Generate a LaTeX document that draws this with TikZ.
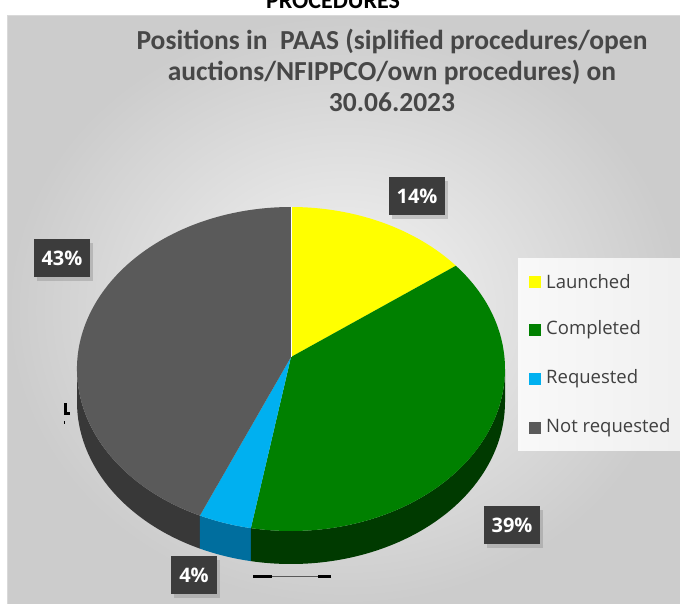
\documentclass[tikz,border=0pt]{standalone}
\usepackage{fontspec}
\setmainfont{Open Sans}
\newfontfamily\titlefont{Carlito}
\usetikzlibrary{shadows}
\definecolor{ttlgray}{HTML}{474747}
\definecolor{leggray}{HTML}{404040}
\definecolor{lblgray}{HTML}{3C3C3C}
\definecolor{cyel}{HTML}{FFFF00}
\definecolor{cgrn}{HTML}{008000}
\definecolor{cgrnside}{HTML}{003A00}
\definecolor{cblu}{HTML}{00B0F0}
\definecolor{cbluside}{HTML}{006E9E}
\definecolor{cgry}{HTML}{5A5A5A}
\definecolor{cgryside}{HTML}{383838}
\newcommand\piex[1]{291+214*cos(#1)}
\newcommand\piey[1]{-369+162*sin(#1)}
\newcommand\mytop[3]{\fill[#3] (V) -- ({\piex{#1}},{\piey{#1}}) arc[start angle=#1, end angle=#2, x radius=214pt, y radius=162pt] -- cycle;}
\newcommand\myside[3]{\fill[#3] ({\piex{#1}},{\piey{#1}}) arc[start angle=#1, end angle=#2, x radius=214pt, y radius=162pt] -- ++(0,-33) arc[start angle=#2, end angle=#1, x radius=214pt, y radius=162pt] -- cycle;}
\tikzset{
  lbl/.style={fill=lblgray, text=white, font=\bfseries\fontsize{20}{20}\selectfont, minimum height=38pt, inner xsep=8pt, drop shadow={shadow xshift=3pt, shadow yshift=-4pt, opacity=0.35}},
  legsq/.style={minimum size=11.5pt, inner sep=0pt},
  legtxt/.style={anchor=west, text=leggray, font=\fontsize{18.5}{18.5}\selectfont, inner sep=0pt}
}
\begin{document}
\begin{tikzpicture}[x=1pt,y=1pt]
\useasboundingbox (0,0) rectangle (680,-603);
\clip (0,0) rectangle (680,-603);
\fill[white] (0,0) rectangle (680,-603);
\node[anchor=base, font=\titlefont\bfseries\fontsize{24}{24}\selectfont] (cut) at (333,-8) {PROCEDURES};
% frame
\shade[inner color=gray!8, outer color=gray!40, draw=gray!30] (7,-15) rectangle (682,-605);
% title
\node[align=center, text=ttlgray, font=\titlefont\bfseries\fontsize{27.5}{31}\selectfont] (title) at (392,-70) {Positions in\ \ PAAS (siplified procedures/open\\auctions/NFIPPCO/own procedures) on\\30.06.2023};
% legend box
\shade[left color=gray!5, right color=gray!12] (518,-258) rectangle (682,-450);
% pie
\coordinate (V) at (291,-357);
\myside{-180}{-115.2}{cgryside}
\myside{-115.2}{-100.8}{cbluside}
\myside{-100.8}{0}{cgrnside}
\mytop{90}{39.6}{cyel}
\mytop{39.6}{-100.8}{cgrn}
\mytop{-100.8}{-115.2}{cblu}
\mytop{-115.2}{-270}{cgry}
\draw[white, line width=1pt] (V) -- (291,-207);
% artifacts
\fill[black] (64,-403) rectangle (67,-414);
\fill[black] (64,-412) rectangle (70,-415);
\fill[black] (63.5,-421) rectangle (65,-424);
\coordinate (la) at (253,-576);
\coordinate (lb) at (331,-576);
\draw[gray!70!black, line width=0.8pt] (la) -- (lb);
\draw[black, line width=3pt] (la) -- ++(19,0);
\draw[black, line width=3pt] (lb) -- ++(-13,0);
% labels
\node[lbl] (l14) at (417,-196) {14\%};
\node[lbl] (l39) at (512,-525) {39\%};
\node[lbl] (l43) at (62,-258) {43\%};
\node[lbl] (l4) at (194,-575) {4\%};
% legend
\node[legsq, fill=cyel] (s1) at (535,-282) {};
\node[legtxt] (t1) at (546,-282) {Launched};
\node[legsq, fill=cgrn] (s2) at (535,-330) {};
\node[legtxt] (t2) at (546,-330) {Completed};
\node[legsq, fill=cblu] (s3) at (535,-379) {};
\node[legtxt] (t3) at (546,-379) {Requested};
\node[legsq, fill=cgry] (s4) at (535,-428) {};
\node[legtxt] (t4) at (546,-428) {Not requested};
\end{tikzpicture}
\end{document}
